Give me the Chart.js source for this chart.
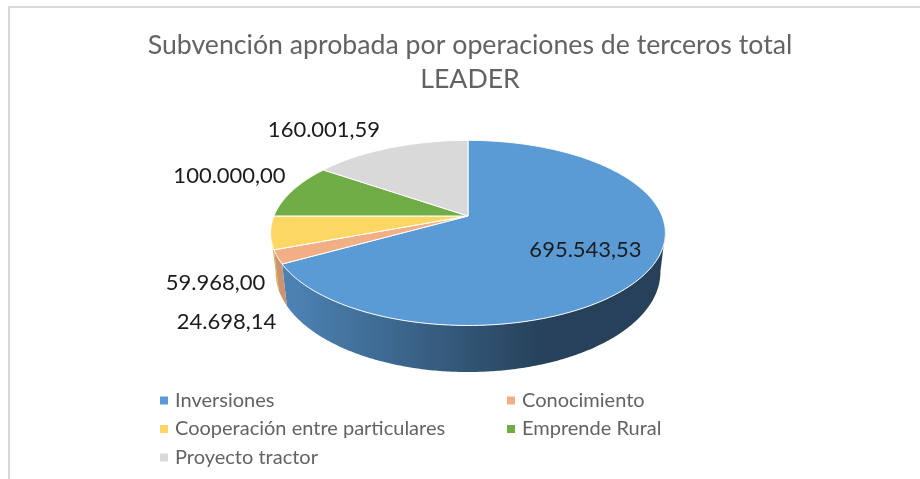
<!DOCTYPE html>
<html><head><meta charset="utf-8">
<style>
html,body{margin:0;padding:0;background:#fff}
#wrap{position:relative;width:920px;height:479px;overflow:hidden}
#frame{position:absolute;left:8px;top:6px;right:-4px;bottom:-4px;border-top:2px solid #d9d9d9;border-left:2px solid #d9d9d9;pointer-events:none}
canvas{position:absolute;left:0;top:0}
</style>
<script src="https://cdn.jsdelivr.net/npm/chart.js@4"></script>
</head><body>
<div id="wrap"><canvas id="c" width="920" height="479"></canvas><div id="frame"></div></div>
<script>
const titleLines = ["Subvención aprobada por operaciones de terceros total", "LEADER"];
const categories = ["Inversiones", "Conocimiento", "Cooperación entre particulares", "Emprende Rural", "Proyecto tractor"];
const amounts = [695543.53, 24698.14, 59968.00, 100000.00, 160001.59];
const colours = ["#5B9BD5", "#F2AF85", "#FDD764", "#70AD47", "#D9D9D9"];

const FONT = "Lato, Carlito, Calibri, sans-serif";
// Perspective of the tilted disc, as ratios of the library's outer radius
const tilt = {ax: 1.95, by: 0.899, k: -0.1828, wallSx: 0.975, wallSy: 1.08, wallDrop: 0.38, shift: -2};
const wallFrom = 10 * Math.PI / 180, wallTo = 170 * Math.PI / 180;
const labelSpots = [[585.5, 250], [226.5, 322], [215.5, 282.5], [229.5, 175.5], [324, 130]];
const legendSpots = [[160, 400], [507, 400], [160, 428.5], [507, 428.5], [160, 457]];

function fmt(v){
  const [i, d] = v.toFixed(2).split(".");
  return i.replace(/\B(?=(\d{3})+$)/g, ".") + "," + d;
}
function project(arc, a, wall){
  const u = Math.cos(a), v = Math.sin(a), R = arc.outerRadius, w = 1 + tilt.k * v;
  let x = tilt.ax * R * u / w, y = tilt.by * R * v / w;
  if (wall){ x *= tilt.wallSx; y = y * tilt.wallSy + tilt.wallDrop * R; }
  return [arc.x + tilt.shift + x, arc.y + y];
}
function shade(hex, f){
  const n = parseInt(hex.slice(1), 16);
  return `rgb(${Math.round((n>>16)*f)},${Math.round(((n>>8)&255)*f)},${Math.round((n&255)*f)})`;
}
const disc = {
  id: "disc",
  beforeDatasetDraw(chart){
    const ctx = chart.ctx, arcs = chart.getDatasetMeta(0).data;
    const norm = a => { while (a < -Math.PI/2 - 1e-6) a += 2*Math.PI; while (a > 1.5*Math.PI + 1e-6) a -= 2*Math.PI; return a; };
    ctx.save();
    // front wall
    arcs.forEach(arc => {
      const s = Math.max(norm(arc.startAngle), wallFrom), e = Math.min(norm(arc.endAngle), wallTo);
      if (e <= s) return;
      const col = arc.options.backgroundColor, R = arc.outerRadius;
      const g = ctx.createLinearGradient(arc.x - 1.8*R, 0, arc.x + 0.75*R, 0);
      g.addColorStop(0, shade(col, 0.84));
      g.addColorStop(1, shade(col, 0.42));
      ctx.beginPath();
      const n = Math.ceil((e - s) / 0.01);
      for (let i = 0; i <= n; i++){ const p = project(arc, s + (e-s)*i/n, false); ctx.lineTo(p[0], p[1]); }
      for (let i = n; i >= 0; i--){ const p = project(arc, s + (e-s)*i/n, true); ctx.lineTo(p[0], p[1]); }
      ctx.closePath();
      ctx.fillStyle = g; ctx.fill();
    });
    // top face
    arcs.forEach(arc => {
      const s = arc.startAngle, e = arc.endAngle, n = Math.ceil((e - s) / 0.01);
      ctx.beginPath();
      ctx.moveTo(arc.x + tilt.shift, arc.y);
      for (let i = 0; i <= n; i++){ const p = project(arc, s + (e-s)*i/n, false); ctx.lineTo(p[0], p[1]); }
      ctx.closePath();
      ctx.fillStyle = arc.options.backgroundColor; ctx.fill();
      ctx.strokeStyle = arc.options.borderColor; ctx.lineWidth = arc.options.borderWidth; ctx.lineJoin = "round"; ctx.stroke();
    });
    ctx.restore();
    return false;
  },
  afterDatasetsDraw(chart){
    const ctx = chart.ctx;
    ctx.save();
    ctx.textBaseline = "middle";
    ctx.textAlign = "center";
    ctx.font = `22px ${FONT}`;
    ctx.fillStyle = "#1c1c1c";
    chart.data.datasets[0].data.forEach((v, i) => ctx.fillText(fmt(v), labelSpots[i][0], labelSpots[i][1]));
    ctx.textAlign = "left";
    ctx.font = `20px ${FONT}`;
    chart.data.labels.forEach((t, i) => {
      const [x, y] = legendSpots[i];
      ctx.fillStyle = colours[i];
      ctx.fillRect(x, y - 3.5, 8, 8);
      ctx.fillStyle = "#636363";
      ctx.fillText(t, x + 15, y + 0.5);
    });
    ctx.restore();
  }
};
new Chart(document.getElementById("c"), {
  type: "pie",
  data: {labels: categories, datasets: [{data: amounts, backgroundColor: colours, borderColor: "#ffffff", borderWidth: 1}]},
  plugins: [disc],
  options: {
    responsive: false,
    animation: false,
    layout: {padding: {left: 20, right: 0, top: 0, bottom: 163}},
    plugins: {
      legend: {display: false},
      tooltip: {enabled: false},
      title: {display: true, text: titleLines, color: "#636363", align: "center",
        font: {family: FONT, size: 26.7, weight: "normal", lineHeight: 1.273},
        padding: {top: 28, bottom: 20}}
    }
  }
});
</script>
</body></html>
